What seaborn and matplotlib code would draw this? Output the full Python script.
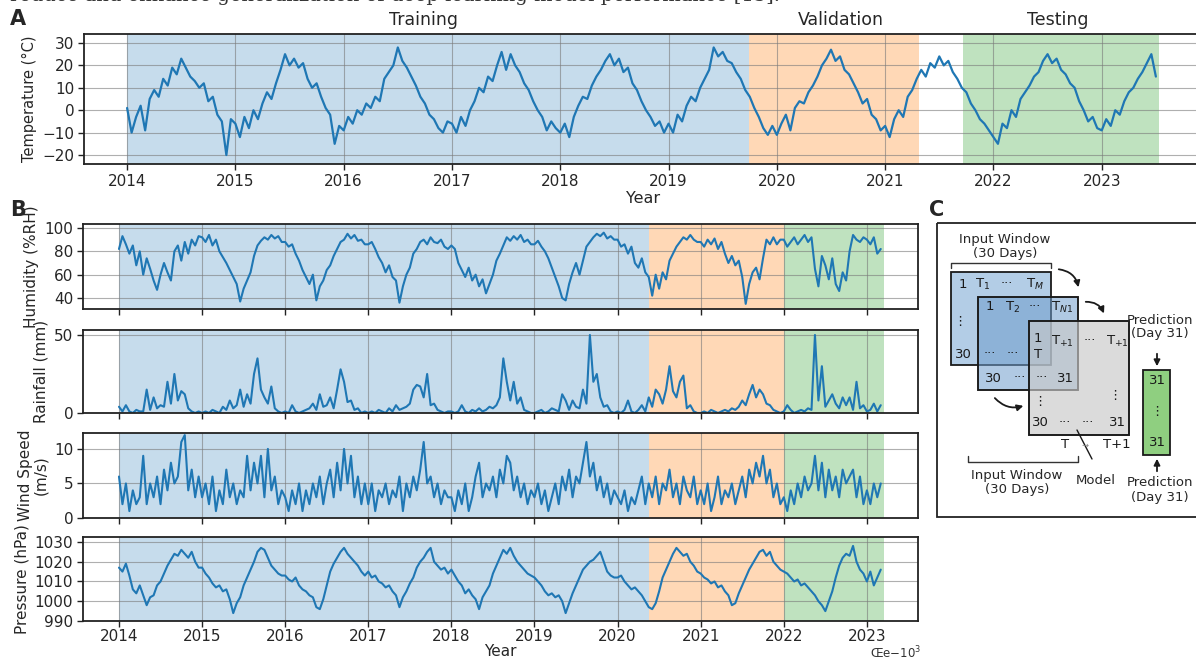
import numpy as np
import matplotlib
matplotlib.use("Agg")
import matplotlib.pyplot as plt
import seaborn as sns
from matplotlib.patches import Rectangle, FancyArrowPatch

temperature = [
    1, -10, -3, 2, -9, 5, 9, 6, 14, 11, 19, 16, 23, 19, 15, 13, 10, 12, 4, 6, -2, -5, -20, -4,
    -6, -12, -3, -8, 0, -4, 3, 8, 5, 12, 18, 25, 20, 23, 19, 21, 14, 10, 12, 6, 1, -2, -15, -7,
    -9, -3, -6, 0, -2, 3, 1, 6, 4, 14, 17, 20, 28, 22, 19, 15, 11, 6, 3, -2, -4, -8, -10, -5,
    -6, -10, -3, -7, 0, 4, 10, 8, 15, 13, 20, 26, 18, 25, 20, 17, 12, 9, 4, 0, -3, -9, -5, -8,
    -10, -6, -12, -3, 2, 6, 5, 11, 15, 18, 22, 25, 20, 23, 17, 19, 12, 9, 4, 0, -3, -7, -5, -10,
    -6, -10, -2, -5, 2, 6, 4, 10, 14, 18, 28, 24, 26, 22, 21, 17, 14, 9, 6, 1, -3, -8, -11, -7,
    -11, -6, -2, -9, 1, 4, 3, 8, 11, 15, 20, 23, 27, 22, 24, 18, 16, 12, 8, 3, 5, -2, -4, -9,
    -7, -12, -4, 0, -3, 6, 9, 14, 18, 15, 21, 19, 24, 20, 22, 17, 14, 10, 8, 3, 0, -4, -6, -9,
    -12, -15, -6, -8, 0, -3, 5, 8, 11, 15, 17, 22, 25, 21, 23, 18, 16, 12, 10, 4, 0, -5, -3, -8,
    -9, -4, -7, 0, -2, 4, 8, 10, 14, 17, 21, 25, 15,
]

humidity = [
    82, 93, 86, 78, 85, 68, 80, 60, 74, 65, 55, 47, 60, 70, 62, 55, 80, 85, 72, 88, 78, 90, 85, 93,
    92, 88, 94, 85, 90, 80, 75, 70, 64, 58, 52, 37, 48, 55, 62, 76, 85, 89, 92, 90, 94, 91, 93, 88,
    88, 84, 86, 78, 72, 64, 58, 52, 60, 38, 50, 55, 64, 68, 76, 82, 88, 90, 95, 91, 94, 89, 90, 86,
    86, 88, 82, 75, 70, 62, 68, 58, 55, 36, 50, 60, 66, 78, 82, 88, 90, 86, 92, 88, 87, 90, 84, 82,
    85, 82, 70, 64, 58, 66, 55, 60, 50, 56, 44, 52, 60, 72, 78, 85, 92, 89, 93, 90, 94, 88, 90, 86,
    86, 89, 84, 80, 74, 66, 58, 50, 40, 38, 52, 62, 70, 60, 72, 84, 88, 92, 95, 93, 96, 91, 93, 90,
    90, 84, 86, 78, 84, 70, 66, 74, 62, 58, 42, 60, 48, 62, 56, 72, 78, 84, 88, 92, 90, 94, 90, 88,
    88, 84, 90, 86, 91, 82, 88, 78, 70, 76, 68, 72, 58, 35, 52, 62, 66, 56, 74, 90, 86, 92, 86, 90,
    90, 84, 88, 92, 86, 90, 94, 88, 92, 65, 50, 76, 68, 56, 74, 52, 46, 62, 55, 80, 94, 90, 88, 92,
    90, 86, 92, 78, 82,
]

rainfall = [
    4, 1, 5, 1, 0, 2, 1, 1, 15, 2, 10, 3, 5, 4, 20, 6, 25, 8, 14, 12, 3, 1, 0, 1,
    0, 1, 0, 2, 1, 0, 4, 2, 8, 3, 5, 15, 4, 12, 6, 25, 35, 15, 10, 6, 17, 3, 1, 0,
    1, 0, 5, 1, 0, 1, 2, 3, 6, 2, 12, 4, 5, 10, 3, 15, 28, 20, 7, 8, 2, 3, 0, 1,
    0, 1, 0, 2, 1, 0, 3, 1, 5, 2, 3, 4, 6, 15, 18, 17, 10, 25, 5, 6, 2, 1, 0, 1,
    1, 0, 1, 5, 1, 0, 2, 1, 3, 1, 2, 4, 3, 5, 10, 35, 20, 8, 20, 6, 10, 2, 1, 0,
    0, 1, 2, 0, 1, 3, 2, 1, 12, 8, 2, 8, 4, 3, 15, 6, 50, 20, 25, 10, 4, 5, 1, 0,
    1, 0, 2, 8, 1, 0, 2, 5, 1, 10, 4, 15, 12, 6, 15, 30, 14, 10, 20, 24, 3, 5, 1, 0,
    0, 1, 0, 2, 1, 0, 1, 2, 1, 3, 2, 4, 8, 5, 12, 18, 10, 15, 12, 6, 5, 2, 1, 0,
    1, 5, 2, 0, 1, 2, 1, 3, 2, 50, 8, 30, 4, 8, 12, 6, 3, 10, 5, 10, 2, 20, 3, 5,
    1, 2, 6, 1, 5,
]

wind_speed = [
    6, 2, 5, 1, 4, 2, 3, 9, 2, 5, 3, 6, 2, 7, 4, 8, 5, 6, 11, 12, 4, 7, 3, 6,
    3, 5, 2, 6, 1, 4, 2, 7, 3, 5, 2, 4, 3, 9, 4, 8, 5, 9, 3, 10, 4, 6, 2, 4,
    3, 1, 4, 2, 5, 1, 4, 2, 5, 3, 6, 2, 5, 7, 3, 8, 4, 10, 5, 9, 3, 6, 2, 5,
    2, 5, 1, 4, 3, 5, 2, 4, 3, 6, 1, 5, 3, 6, 4, 7, 11, 5, 6, 3, 5, 2, 4, 3,
    3, 1, 4, 2, 5, 1, 3, 6, 8, 3, 5, 4, 6, 3, 7, 5, 9, 8, 4, 6, 3, 5, 2, 4,
    3, 5, 2, 4, 1, 3, 5, 2, 6, 4, 7, 3, 6, 5, 8, 11, 6, 8, 4, 6, 3, 5, 2, 4,
    3, 2, 4, 1, 3, 2, 4, 6, 2, 5, 3, 6, 2, 5, 4, 7, 3, 5, 2, 6, 4, 3, 6, 2,
    4, 2, 5, 1, 3, 6, 2, 4, 3, 5, 2, 4, 6, 3, 7, 5, 8, 6, 9, 5, 7, 3, 5, 2,
    3, 1, 4, 2, 5, 3, 6, 4, 5, 9, 4, 8, 3, 7, 4, 6, 3, 7, 5, 6, 7, 3, 6, 2,
    4, 2, 5, 3, 5,
]

pressure = [
    1017, 1015, 1019, 1013, 1006, 1004, 1008, 1003, 998, 1002, 1003, 1008, 1010, 1014, 1018, 1021, 1024, 1023, 1026, 1024, 1022, 1025, 1020, 1017,
    1017, 1014, 1012, 1009, 1007, 1008, 1005, 1006, 1001, 994, 999, 1002, 1008, 1012, 1016, 1020, 1025, 1027, 1026, 1022, 1018, 1016, 1014, 1013,
    1013, 1011, 1010, 1012, 1008, 1006, 1005, 1003, 1002, 997, 996, 1001, 1008, 1015, 1019, 1022, 1025, 1027, 1024, 1022, 1020, 1018, 1015, 1013,
    1015, 1012, 1013, 1010, 1009, 1007, 1008, 1005, 1003, 997, 1002, 1005, 1009, 1012, 1017, 1020, 1022, 1025, 1027, 1020, 1018, 1016, 1017, 1014,
    1016, 1013, 1010, 1008, 1004, 1006, 1003, 1001, 996, 1002, 1005, 1008, 1014, 1018, 1022, 1026, 1024, 1027, 1023, 1020, 1018, 1016, 1014, 1013,
    1012, 1010, 1008, 1005, 1003, 1004, 1002, 1003, 1000, 994, 999, 1004, 1008, 1012, 1016, 1018, 1020, 1021, 1023, 1025, 1020, 1015, 1013, 1012,
    1012, 1013, 1010, 1008, 1006, 1007, 1005, 1003, 1000, 997, 996, 999, 1005, 1012, 1016, 1020, 1024, 1027, 1025, 1023, 1024, 1020, 1018, 1015,
    1014, 1012, 1011, 1009, 1010, 1007, 1008, 1005, 1003, 998, 999, 1004, 1008, 1012, 1016, 1019, 1022, 1025, 1026, 1023, 1025, 1020, 1018, 1016,
    1015, 1014, 1012, 1010, 1011, 1008, 1009, 1007, 1005, 1003, 1000, 998, 995, 1000, 1005, 1012, 1018, 1022, 1024, 1023, 1028, 1020, 1016, 1014,
    1010, 1015, 1008, 1012, 1016,
]

# split boundaries (decimal years)
splits_a = [(2014.0, 2019.74, "tab:blue", 0.25), (2019.74, 2021.31, "tab:orange", 0.3), (2021.72, 2023.53, "tab:green", 0.3)]
splits_b = [(2014.0, 2020.38, "tab:blue", 0.25), (2020.38, 2022.0, "tab:orange", 0.3), (2022.0, 2023.2, "tab:green", 0.3)]
split_names = ["Training", "Validation", "Testing"]
split_label_x = [2016.74, 2020.59, 2022.59]
years = list(range(2014, 2024))

t_a = 2014 + np.arange(len(temperature)) / 24
t_b = 2014 + np.arange(len(humidity)) / 24

sns.set_theme(style="ticks")
plt.rcParams["font.family"] = ["DejaVu Sans"]

W, H = 1196, 659
fig = plt.figure(figsize=(W / 100, H / 100), dpi=100)


def px_axes(left, top, right, bottom):
    return fig.add_axes([left / W, 1 - bottom / H, (right - left) / W, (bottom - top) / H])


def style(ax):
    ax.grid(True, color="#7a7a7a", lw=0.8, alpha=0.6)
    for s in ax.spines.values():
        s.set_color("#222222")
        s.set_linewidth(1.3)
    ax.tick_params(labelsize=11, length=4, width=1, color="#222222", pad=3)


# ---- panel A
ax = px_axes(84, 34, 1202, 164)
for a, b, c, al in splits_a:
    ax.axvspan(a, b, color=c, alpha=al, lw=0, zorder=0)
sns.lineplot(x=t_a, y=temperature, ax=ax, color="#1f77b4", lw=1.6)
ax.set_xlim(2013.602, 2023.926)
ax.set_ylim(-24, 34)
ax.set_yticks([-20, -10, 0, 10, 20, 30])
ax.set_xticks(years)
ax.set_xticklabels([str(y) for y in years])
ax.set_ylabel("Temperature (°C)", fontsize=10.5)
ax.set_xlabel("Year", fontsize=11.5, labelpad=2)
style(ax)
for name, x in zip(split_names, split_label_x):
    ax.text(x, 1.04, name, transform=ax.get_xaxis_transform(), ha="center", va="bottom", fontsize=12.5)

# ---- panel B
rows = [
    (humidity, "Humidity (%RH)", (30.6, 103.4), [40, 60, 80, 100], (224, 309)),
    (rainfall, "Rainfall (mm)", (0, 53.2), [0, 50], (330, 413)),
    (wind_speed, "Wind Speed\n(m/s)", (0, 12.3), [0, 5, 10], (433, 518)),
    (pressure, "Pressure (hPa)", (990, 1032.5), [990, 1000, 1010, 1020, 1030], (537, 621)),
]
axes_b = []
for vals, lab, ylim, yt, (top, bot) in rows:
    axb = px_axes(83, top, 918, bot)
    for a, b, c, al in splits_b:
        axb.axvspan(a, b, color=c, alpha=al, lw=0, zorder=0)
    sns.lineplot(x=t_b, y=vals, ax=axb, color="#1f77b4", lw=1.5)
    axb.set_xlim(2013.567, 2023.615)
    axb.set_ylim(*ylim)
    axb.set_yticks(yt)
    axb.set_xticks(years)
    axb.set_ylabel(lab, fontsize=11, linespacing=1.0)
    style(axb)
    axes_b.append(axb)
for axb in axes_b[:-1]:
    axb.set_xticklabels([])
    axb.set_xlabel("")
axes_b[-1].set_xticklabels([str(y) for y in years])
axes_b[-1].tick_params(axis="x", pad=2)
axes_b[-1].set_xlabel("Year", fontsize=11, labelpad=0)
fig.align_ylabels(axes_b)

# ---- overlay in pixel coordinates for labels and the diagram
ov = fig.add_axes([0, 0, 1, 1], zorder=10)
ov.set_xlim(0, W)
ov.set_ylim(H, 0)
ov.axis("off")
ov.patch.set_alpha(0)

ov.text(10, -4, "reduce and enhance generalization of deep learning model performance [15].",
        family="DejaVu Serif", fontsize=14, va="center", color="#333333")
ov.text(10, 19, "A", fontsize=15, fontweight="bold", va="center")
ov.text(10, 210, "B", fontsize=15, fontweight="bold", va="center")
ov.text(929, 210, "C", fontsize=15, fontweight="bold", va="center")
ov.text(921, 653, "Œe−10$^3$", fontsize=8.5, ha="right", va="center", color="#333333")

# panel C diagram
ov.add_patch(Rectangle((937, 223), 270, 294, fill=False, ec="#222222", lw=1.3))
fs = 9.5
ov.text(1005, 246, "Input Window\n(30 Days)", ha="center", va="center", fontsize=fs, linespacing=1.1)
ov.plot([951, 951, 1051, 1051], [268, 263, 263, 268], color="#333333", lw=1)

ov.add_patch(Rectangle((951, 272), 100, 93, fc="#b3cde6", ec="#1a1a1a", lw=1.3))
ov.add_patch(Rectangle((978, 297), 100, 93, fc="#6f9dcc", ec="#1a1a1a", lw=1.3, alpha=0.55))
ov.add_patch(Rectangle((978, 297), 100, 93, fill=False, ec="#1a1a1a", lw=1.3))
ov.add_patch(Rectangle((1029, 321), 100, 114, fc="#c9c9c9", ec="#1a1a1a", lw=1.3, alpha=0.65))
ov.add_patch(Rectangle((1029, 321), 100, 114, fill=False, ec="#1a1a1a", lw=1.3))
ov.add_patch(Rectangle((1143, 370), 27, 85, fc="#8fcf80", ec="#1a1a1a", lw=1.3))

cells = [
    ("1", 963, 284), ("T$_1$", 983, 284), ("···", 1007, 284), ("T$_M$", 1035, 284),
    ("⋮", 960, 322), ("30", 963, 354), ("···", 990, 354), ("···", 1013, 354),
    ("1", 1038, 339), ("T", 1038, 354),
    ("1", 990, 307), ("T$_2$", 1013, 307), ("···", 1035, 307), ("T$_{N1}$", 1062, 307),
    ("30", 993, 378), ("···", 1020, 378), ("···", 1042, 378), ("31", 1065, 378),
    ("T$_{+1}$", 1062, 341), ("···", 1090, 341), ("T$_{+1}$", 1117, 341),
    ("⋮", 1115, 395), ("⋮", 1040, 402),
    ("30", 1040, 423), ("···", 1065, 423), ("···", 1088, 423), ("31", 1117, 423),
    ("T", 1065, 445), ("T+1", 1117, 445),
    ("31", 1157, 380), ("⋮", 1157, 412), ("31", 1157, 443),
]
for s, x, y in cells:
    ov.text(x, y, s, ha="center", va="center", fontsize=fs, color="#1a1a1a")
ov.text(1085, 445, "→", ha="center", va="center", fontsize=6, color="#888888")

ov.text(1160, 327, "Prediction\n(Day 31)", ha="center", va="center", fontsize=fs, linespacing=1.1)
ov.text(1160, 490, "Prediction\n(Day 31)", ha="center", va="center", fontsize=fs, linespacing=1.1)
ov.text(1096, 480, "Model", ha="center", va="center", fontsize=fs)
ov.text(1017, 482, "Input Window\n(30 Days)", ha="center", va="center", fontsize=fs, linespacing=1.1)
ov.plot([968, 968, 1078, 1078], [456, 462, 462, 456], color="#333333", lw=1)
ov.plot([1077, 1092], [430, 459], color="#1a1a1a", lw=1)

arrow_kw = dict(arrowstyle="-|>", mutation_scale=9, color="#1a1a1a", lw=1.3)
ov.add_patch(FancyArrowPatch((1157, 351), (1157, 369), **arrow_kw))
ov.add_patch(FancyArrowPatch((1157, 474), (1157, 456), **arrow_kw))
ov.add_patch(FancyArrowPatch((1056, 269), (1079, 290), connectionstyle="arc3,rad=-0.4", **arrow_kw))
ov.add_patch(FancyArrowPatch((1083, 302), (1105, 316), connectionstyle="arc3,rad=-0.4", **arrow_kw))
ov.add_patch(FancyArrowPatch((993, 396), (1026, 405), connectionstyle="arc3,rad=0.35", **arrow_kw))

fig.savefig("out.png", dpi=100)
